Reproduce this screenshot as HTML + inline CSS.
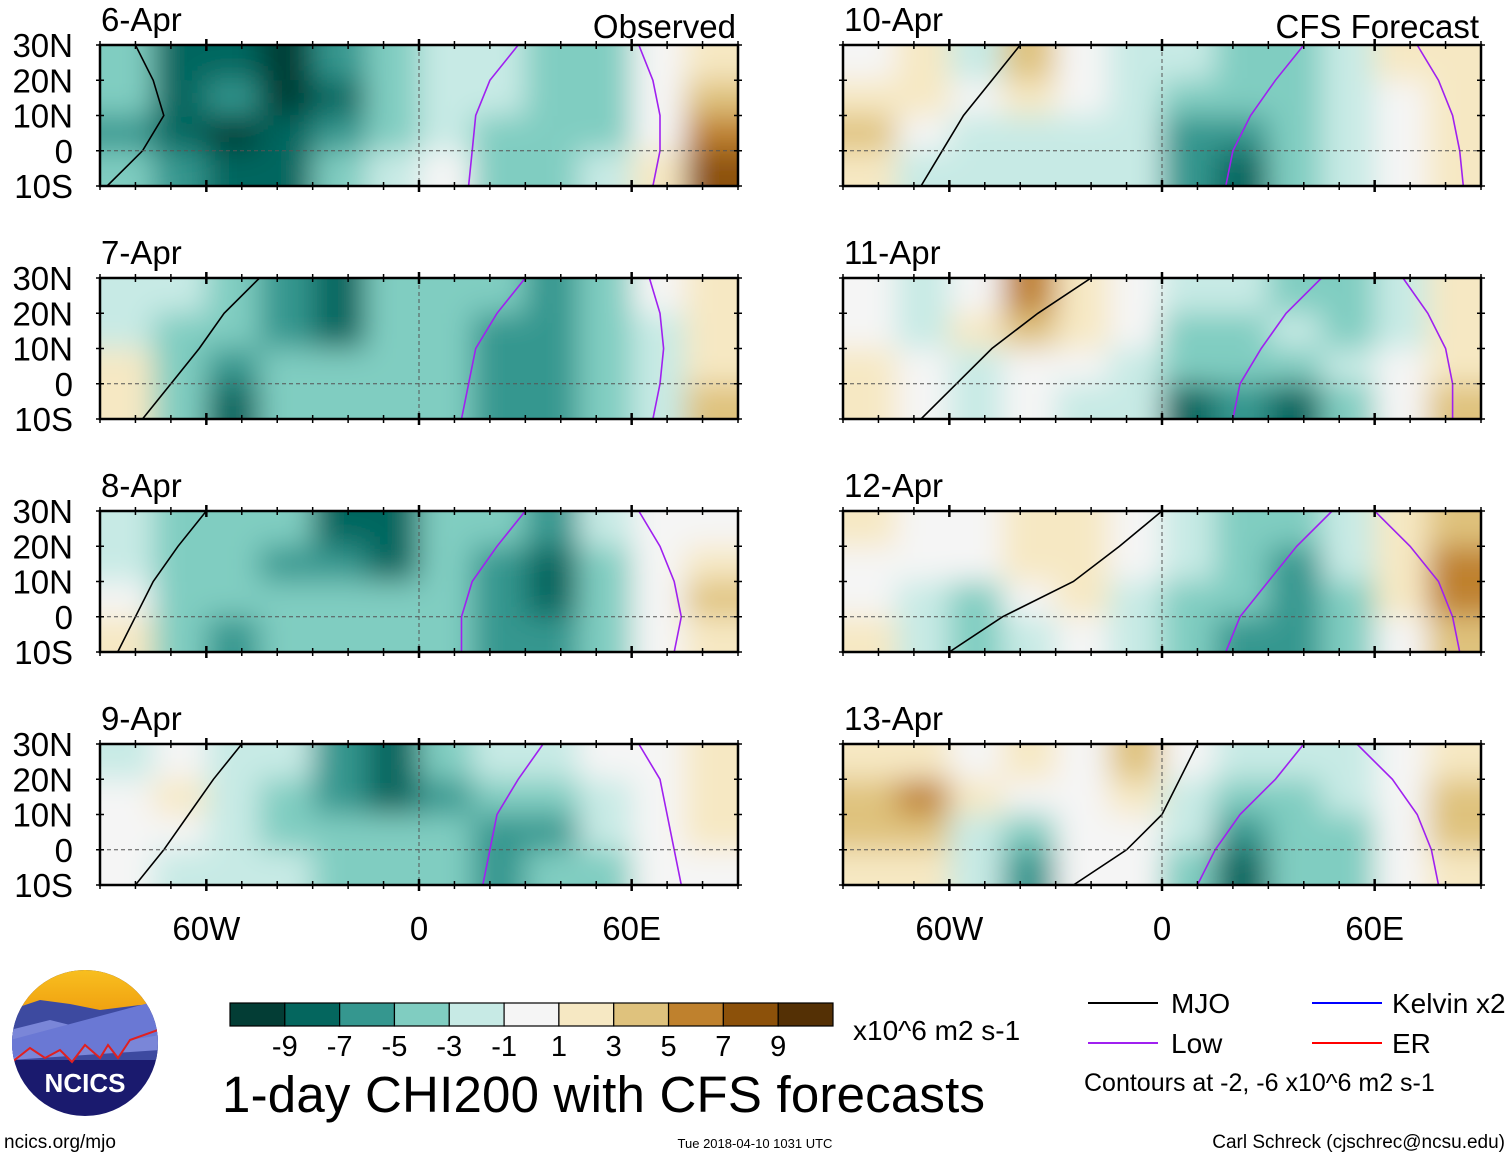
<!DOCTYPE html>
<html><head><meta charset="utf-8">
<style>
html,body{margin:0;padding:0;background:#fff;}
body{width:1510px;height:1158px;overflow:hidden;font-family:"Liberation Sans",sans-serif;}
svg text{font-family:"Liberation Sans",sans-serif;}
</style></head>
<body>
<svg id="chart" width="1510" height="1158" viewBox="0 0 1510 1158" xmlns="http://www.w3.org/2000/svg">
<defs>
<filter id="blur" x="-20%" y="-50%" width="140%" height="200%"><feGaussianBlur stdDeviation="15"/></filter>
<linearGradient id="sky" x1="0" y1="0" x2="0" y2="1"><stop offset="0" stop-color="#f8c020"/><stop offset="1" stop-color="#f0a010"/></linearGradient>
<clipPath id="logoClip"><circle cx="85" cy="1043" r="73"/></clipPath>
</defs>
<g id="panels"></g>

<g clip-path="url(#logoClip)">
<rect x="10" y="968" width="150" height="150" fill="#1a1a6e"/>
<rect x="10" y="968" width="150" height="45" fill="url(#sky)"/>
<path d="M10 1010 L40 1000 L70 1004 L100 1010 L140 1005 L160 1010 L160 1060 L10 1060Z" fill="#3d4aa0"/>
<path d="M10 1030 L50 1020 L90 1030 L130 1020 L160 1025 L160 1050 L10 1060Z" fill="#7a86d8"/>
<path d="M10 1060 L30 1048 L45 1058 L60 1050 L72 1062 L85 1045 L100 1058 L108 1045 L118 1058 L130 1040 L160 1035 L160 1000 L10 1040Z" fill="#6a78d4"/>
<path d="M12 1062 L30 1048 L45 1058 L60 1050 L72 1062 L85 1045 L100 1058 L108 1045 L118 1058 L130 1040 L158 1030" fill="none" stroke="#e02020" stroke-width="2"/>
<text x="85" y="1092" font-size="26" font-weight="bold" fill="#fff" text-anchor="middle">NCICS</text>
</g>
<text x="4" y="1148" font-size="19">ncics.org/mjo</text>

<g id="colorbar"></g>
<text x="853" y="1040" font-size="28">x10^6 m2 s-1</text>
<text x="222" y="1112" font-size="51" textLength="763">1-day CHI200 with CFS forecasts</text>
<text x="755" y="1148" font-size="13" text-anchor="middle">Tue 2018-04-10 1031 UTC</text>
<text x="1505" y="1148" font-size="19" text-anchor="end">Carl Schreck (cjschrec@ncsu.edu)</text>

<g>
<g><line x1="1088" y1="1003" x2="1158" y2="1003" stroke="#000" stroke-width="2"/><text x="1171" y="1013" font-size="28">MJO</text></g>
<g><line x1="1312" y1="1003" x2="1382" y2="1003" stroke="#0000ff" stroke-width="2"/><text x="1392" y="1013" font-size="28">Kelvin x2</text></g>
<g><line x1="1088" y1="1043" x2="1158" y2="1043" stroke="#a020f0" stroke-width="2"/><text x="1171" y="1053" font-size="28">Low</text></g>
<g><line x1="1312" y1="1043" x2="1382" y2="1043" stroke="#ff0000" stroke-width="2"/><text x="1392" y="1053" font-size="28">ER</text></g>
<text x="1084" y="1091" font-size="25">Contours at -2, -6 x10^6 m2 s-1</text>
</g>
</svg>
<script>
const NS="http://www.w3.org/2000/svg";
const colors=["#033d35","#04665e","#35978f","#80cdc1","#c7eae5","#f5f5f5","#f6e8c3","#dfc27d","#bf812d","#8c510a","#543005"];
const levels=[-9,-7,-5,-3,-1,1,3,5,7,9];
const lons=[-82.5,-67.5,-52.5,-37.5,-22.5,-7.5,7.5,22.5,37.5,52.5,67.5,82.5];
const lats=[25,15,5,-5];
const dates=["6-Apr","7-Apr","8-Apr","9-Apr","10-Apr","11-Apr","12-Apr","13-Apr"];
const latTicks=["30N","20N","10N","0","10S"];
const lonTicks=["60W","0","60E"];
const f6=[[-5,-8,-8,-10,-7,-4,-3,-3,-5,-4,0,2],[-5,-8,-7,-10,-8,-4,-3,-3,-5,-5,-1,4],[-6,-8,-10,-9,-6,-4,-2,-4,-5,-4,-1,6],[-5,-7,-9,-8,-5,-3,0,-4,-4,-3,2,7]];
const f7=[[-3,-3,-5,-6,-8,-5,-4,-5,-6,-4,-1,2],[-3,-4,-5,-6,-8,-5,-4,-6,-6,-4,-2,2],[1,-4,-7,-5,-5,-4,-4,-6,-7,-4,-2,1],[1,-4,-8,-5,-4,-4,-4,-6,-6,-4,-2,3]];
const f8=[[-3,-4,-5,-5,-8,-9,-4,-5,-6,-3,-1,0],[-3,-4,-5,-6,-7,-8,-4,-6,-9,-4,-1,2],[0,-4,-5,-5,-5,-5,-4,-6,-9,-5,0,3],[1,-4,-6,-5,-4,-4,-4,-6,-6,-4,0,1]];
const f9=[[-2,-1,-2,-3,-6,-9,-5,-3,-2,-1,0,2],[-1,1,-2,-4,-6,-8,-6,-5,-4,-2,0,2],[-1,-1,-3,-4,-5,-5,-5,-6,-6,-3,-1,1],[-1,-2,-3,-3,-4,-4,-5,-7,-5,-4,-1,0]];
const f10=[[-1,2,-3,3,-1,-2,-3,-5,-4,-2,1,2],[1,2,-1,2,-1,-2,-4,-5,-4,-2,0,1],[3,-1,-3,-2,-2,-3,-6,-6,-5,-3,-1,1],[2,-2,-3,-3,-2,-2,-7,-8,-5,-3,-1,1]];
const f11=[[-1,-2,0,5,1,0,-3,-3,-4,-5,-2,2],[-1,-2,1,3,1,-1,-4,-4,-3,-4,-2,2],[2,-1,-2,-1,0,-2,-5,-5,-4,-3,-1,2],[1,-1,-3,-1,-2,-3,-8,-7,-8,-4,-1,3]];
const f12=[[2,-1,-1,2,2,0,-2,-4,-5,-3,2,3],[0,-1,-1,1,2,-1,-3,-4,-6,-3,2,5],[0,-2,-4,-1,1,-2,-4,-5,-6,-4,1,6],[1,-2,-5,-3,-1,-2,-4,-7,-6,-4,0,4]];
const f13=[[2,1,0,1,0,3,-1,-2,-3,-2,0,2],[4,5,1,-1,0,2,-2,-4,-4,-3,0,3],[4,3,-2,-4,0,0,-3,-6,-5,-4,0,4],[2,1,-3,-7,-1,0,-5,-8,-5,-4,0,2]];
const fields=[f6,f7,f8,f9,f10,f11,f12,f13];
const lowA=[[28,20,16,15,14],[30,22,16,14,12],[30,22,15,12,12],[35,28,22,20,18],[40,32,25,20,18],[45,35,28,22,20],[48,38,30,22,18],[40,32,22,15,10]];
const lowB=[[62,66,68,68,66],[65,68,69,68,66],[62,68,72,74,72],[62,68,70,72,74],[72,78,82,84,85],[68,75,80,82,82],[60,70,78,82,84],[55,65,72,76,78]];
const mjoA=[[-80,-75,-72,-78,-88],[-45,-55,-62,-70,-78],[-60,-68,-75,-80,-85],[-50,-58,-65,-72,-80],[-40,-48,-56,-62,-68],[-20,-35,-48,-58,-68],[0,-12,-25,-45,-60],[10,5,0,-10,-25]];
const latV=[30,20,10,0,-10];

function colorOf(v){let i=0;while(i<levels.length&&v>=levels[i])i++;return colors[i];}
const panelsG=document.getElementById('panels');
const W=638,H=141;
const pos=[[100,45],[100,278],[100,511],[100,744],[843,45],[843,278],[843,511],[843,744]];
function mk(tag,attrs,parent){const e=document.createElementNS(NS,tag);for(const k in attrs)e.setAttribute(k,attrs[k]);parent.appendChild(e);return e;}

fields.forEach((field,p)=>{
  const [x0,y0]=pos[p];
  const X=lon=>x0+(lon+90)*W/180;
  const Y=lat=>y0+(30-lat)*H/40;
  const g=mk('g',{},panelsG);
  
  
  const cp=mk('clipPath',{id:'cp'+p},g);
  mk('rect',{x:x0,y:y0,width:W,height:H},cp);
  const outer=mk('g',{'clip-path':'url(#cp'+p+')'},g);
  mk('rect',{x:x0,y:y0,width:W,height:H,fill:'#f5f5f5'},outer);
  const inner=mk('g',{filter:'url(#blur)'},outer);
  field.forEach((row,r)=>{row.forEach((v,c)=>{
    let xa=X(lons[c]-7.5),xb=X(lons[c]+7.5),ya=Y(lats[r]+5),yb=Y(lats[r]-5);
    if(c==0)xa-=50; if(c==row.length-1)xb+=50; if(r==0)ya-=50; if(r==field.length-1)yb+=50;
    const cell=mk('rect',{x:xa,y:ya,width:xb-xa+0.5,height:yb-ya+0.5,fill:colorOf(v)},inner);
    
    
  });});
  const line=(arr,col)=>{let d='';arr.forEach((lon,i)=>{d+=(i?'L':'M')+X(lon).toFixed(1)+' '+Y(latV[i]).toFixed(1);});
    return mk('path',{d:d,fill:'none',stroke:col,'stroke-width':1.6},outer);};
  const l1=line(lowA[p],'#a020f0');
  
  
  const l2=line(lowB[p],'#a020f0');
  
  
  const l3=line(mjoA[p],'#000');
  
  
  mk('line',{x1:x0,y1:Y(0),x2:x0+W,y2:Y(0),stroke:'#555','stroke-width':1,'stroke-dasharray':'4,3'},g);
  mk('line',{x1:X(0),y1:y0,x2:X(0),y2:y0+H,stroke:'#555','stroke-width':1,'stroke-dasharray':'4,3'},g);
  const fr=mk('rect',{x:x0,y:y0,width:W,height:H,fill:'none',stroke:'#000','stroke-width':2.5},g);
  
  
  for(let lon=-90;lon<=90;lon+=10){const big=lon%60==0;const l=big?6:4;
    mk('line',{x1:X(lon),y1:y0-l,x2:X(lon),y2:y0+l,stroke:'#000','stroke-width':big?2.5:1.5},g);
    mk('line',{x1:X(lon),y1:y0+H-l,x2:X(lon),y2:y0+H+l,stroke:'#000','stroke-width':big?2.5:1.5},g);}
  for(let lat=-10;lat<=30;lat+=10){
    mk('line',{x1:x0-4,y1:Y(lat),x2:x0+4,y2:Y(lat),stroke:'#000','stroke-width':1.5},g);
    mk('line',{x1:x0+W-4,y1:Y(lat),x2:x0+W+4,y2:Y(lat),stroke:'#000','stroke-width':1.5},g);}
  const t=mk('text',{x:x0+1,y:y0-14,'font-size':33},g);t.textContent=dates[p];
  
  
  if(p<4){latTicks.forEach((s,i)=>{const tt=mk('text',{x:73,y:Y(30-10*i)+12,'font-size':33,'text-anchor':'end'},g);tt.textContent=s;
    
    });}
  if(p==0||p==4){const tt=mk('text',{x:x0+W-2,y:y0-7,'font-size':33,'text-anchor':'end'},g);tt.textContent=p==0?'Observed':'CFS Forecast';
    
    }
  if(p==3||p==7){lonTicks.forEach((s,i)=>{const tt=mk('text',{x:X(-60+60*i),y:940,'font-size':33,'text-anchor':'middle'},g);tt.textContent=s;
    
    });}
});

const cb=document.getElementById('colorbar');
const cbx=230,cbw=603/11;
colors.forEach((c,i)=>{const r=mk('rect',{x:cbx+i*cbw,y:1003,width:cbw,height:23,fill:c,stroke:'#000','stroke-width':1.2},cb);
  
  });
levels.forEach((v,i)=>{const t=mk('text',{x:cbx+(i+1)*cbw,y:1056,'font-size':29,'text-anchor':'middle'},cb);t.textContent=v;
  
  });
</script>
</body></html>
